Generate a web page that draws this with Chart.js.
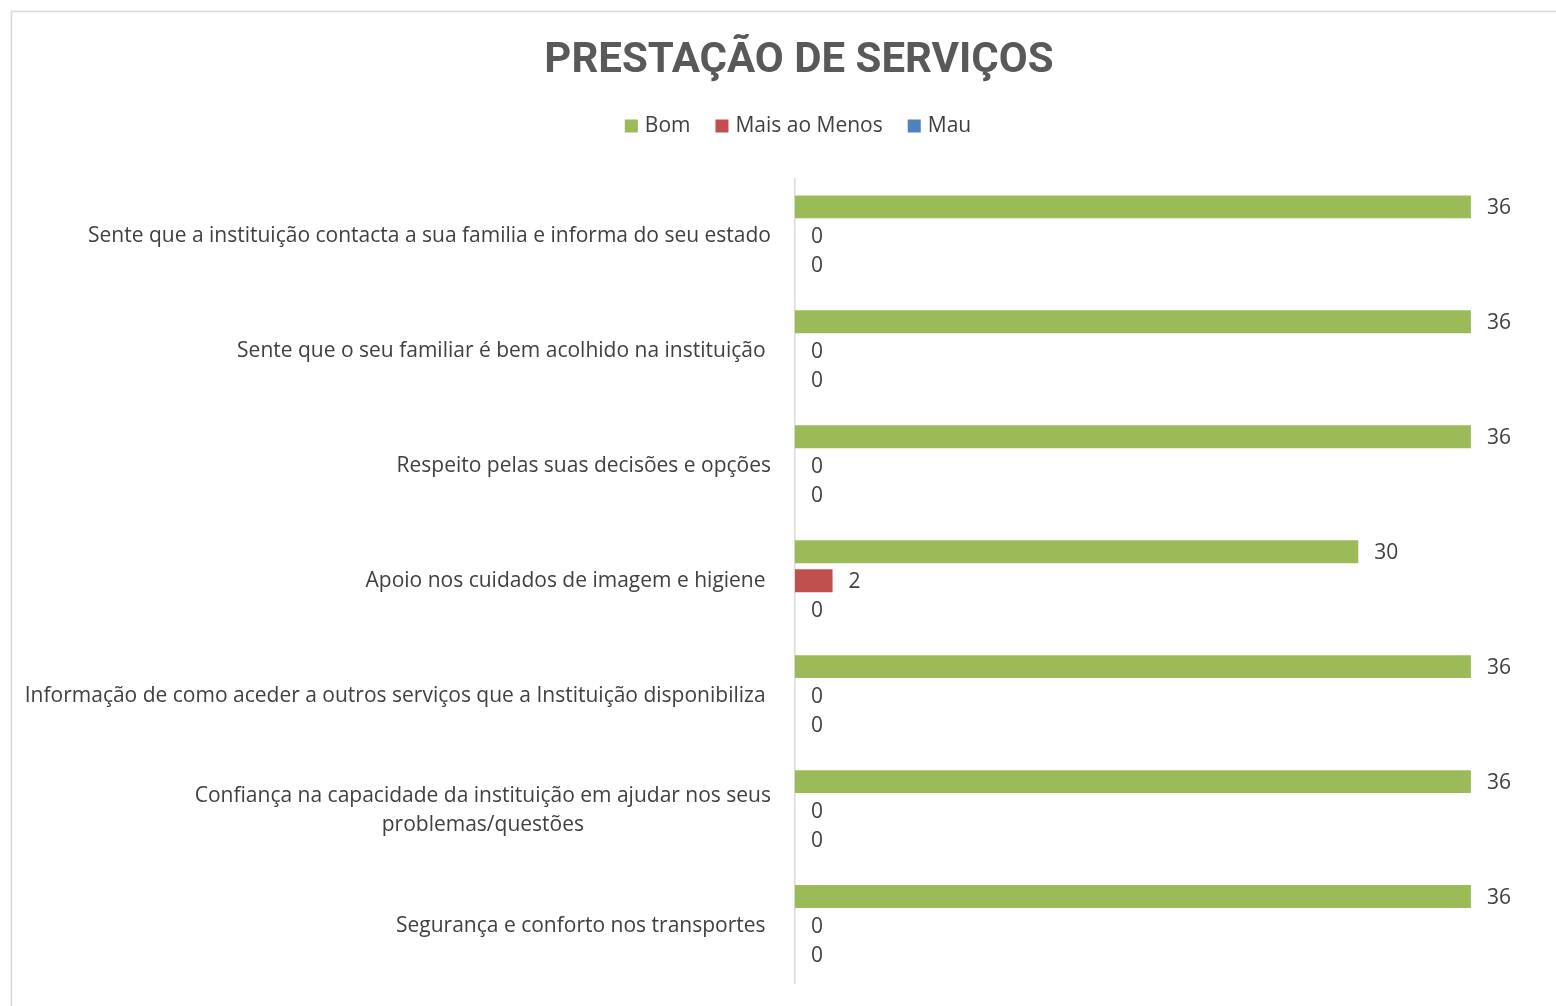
<!DOCTYPE html>
<html>
<head>
<meta charset="utf-8">
<script src="https://cdn.jsdelivr.net/npm/chart.js@4.4.1/dist/chart.umd.min.js"></script>
<style>
  html, body { margin: 0; padding: 0; background: #fff; }
  #wrap { position: relative; width: 1556px; height: 1006px; }
</style>
</head>
<body>
<div id="wrap"><canvas id="myChart" width="1556" height="1006"></canvas></div>
<script>
const categories = [
    "Sente que a instituição contacta a sua familia e informa do seu estado",
    "Sente que o seu familiar é bem acolhido na instituição ",
    "Respeito pelas suas decisões e opções",
    "Apoio nos cuidados de imagem e higiene ",
    "Informação de como aceder a outros serviços que a Instituição disponibiliza ",
    ["Confiança na capacidade da instituição em ajudar nos seus", "problemas/questões"],
    "Segurança e conforto nos transportes ",
];
const seriesNames = ["Bom", "Mais ao Menos", "Mau"];
const bom = [36, 36, 36, 30, 36, 36, 36];
const maisAoMenos = [0, 0, 0, 2, 0, 0, 0];
const mau = [0, 0, 0, 0, 0, 0, 0];
const colors = ["#9BBB59", "#C0504D", "#4F81BD"];

const textColor = "#404040";
const labelFont = "21px 'Open Sans'";

// chart border (top and left only visible)
const frame = {
    id: "frame",
    beforeDraw(chart) {
        const ctx = chart.ctx;
        ctx.save();
        ctx.strokeStyle = "#d9d9d9";
        ctx.lineWidth = 1.5;
        ctx.beginPath();
        ctx.moveTo(11.5, chart.height);
        ctx.lineTo(11.5, 11.5);
        ctx.lineTo(chart.width, 11.5);
        ctx.stroke();
        ctx.restore();
    },
};

// legend drawn by hand so the gaps match
const legendRow = {
    id: "legendRow",
    afterDraw(chart) {
        const ctx = chart.ctx;
        const box = 13, gapText = 7, gapItem = 25, cy = 126, cx = 798;
        ctx.save();
        ctx.font = labelFont;
        ctx.textBaseline = "middle";
        ctx.textAlign = "left";
        const items = chart.data.datasets.map((ds) => ({
            text: ds.label,
            color: ds.backgroundColor,
            w: ctx.measureText(ds.label).width,
        }));
        let total = 0;
        items.forEach((it, i) => {
            total += box + gapText + it.w + (i < items.length - 1 ? gapItem : 0);
        });
        let x = cx - total / 2;
        items.forEach((it) => {
            ctx.fillStyle = it.color;
            ctx.fillRect(x, cy - box / 2, box, box);
            ctx.fillStyle = textColor;
            ctx.fillText(it.text, x + box + gapText, cy);
            x += box + gapText + it.w + gapItem;
        });
        ctx.restore();
    },
};

// category labels, right aligned, wrapped ones centred in their block
const catLabels = {
    id: "catLabels",
    afterDraw(chart) {
        const ctx = chart.ctx;
        const y = chart.scales.y;
        const right = chart.chartArea.left - 24;
        ctx.save();
        ctx.font = labelFont;
        ctx.fillStyle = textColor;
        ctx.textBaseline = "middle";
        ctx.textAlign = "center";
        categories.forEach((lab, i) => {
            const py = y.getPixelForTick(i);
            const lines = Array.isArray(lab) ? lab : [lab];
            const w = Math.max(...lines.map((l) => ctx.measureText(l).width));
            const lh = 29;
            lines.forEach((l, j) => {
                const ly = py + (j - (lines.length - 1) / 2) * lh;
                ctx.fillText(l, right - w / 2, ly);
            });
        });
        ctx.restore();
    },
};

// value labels at the end of each bar
const valueLabels = {
    id: "valueLabels",
    afterDatasetsDraw(chart) {
        const ctx = chart.ctx;
        ctx.save();
        ctx.font = labelFont;
        ctx.fillStyle = textColor;
        ctx.textAlign = "left";
        ctx.textBaseline = "middle";
        chart.data.datasets.forEach((ds, di) => {
            const meta = chart.getDatasetMeta(di);
            meta.data.forEach((bar, i) => {
                ctx.fillText(String(ds.data[i]), bar.x + 16, bar.y + 1);
            });
        });
        ctx.restore();
    },
};

const ctx = document.getElementById("myChart").getContext("2d");
const myChart = new Chart(ctx, {
    type: "bar",
    data: {
        labels: categories,
        datasets: [
            { label: seriesNames[0], data: bom, backgroundColor: colors[0] },
            { label: seriesNames[1], data: maisAoMenos, backgroundColor: colors[1] },
            { label: seriesNames[2], data: mau, backgroundColor: colors[2] },
        ],
    },
    options: {
        indexAxis: "y",
        responsive: false,
        animation: false,
        devicePixelRatio: 1,
        categoryPercentage: 0.757,
        barPercentage: 0.79,
        layout: { padding: { left: 52, right: 10, top: 0, bottom: 23 } },
        plugins: {
            title: {
                display: true,
                text: "PRESTAÇÃO DE SERVIÇOS",
                color: "#595959",
                font: { family: "Roboto", size: 42, weight: "bold" },
                padding: { top: 36, bottom: 92 },
            },
            legend: { display: false },
            tooltip: { enabled: false },
        },
        scales: {
            x: {
                display: false,
                min: 0,
                max: 40,
            },
            y: {
                grid: { display: false },
                border: { display: true, color: "#d9d9d9", width: 1.5 },
                ticks: { display: false },
                afterFit(scale) {
                    scale.width = 795 - 52;
                },
            },
        },
    },
    plugins: [frame, legendRow, catLabels, valueLabels],
});
</script>
</body>
</html>
